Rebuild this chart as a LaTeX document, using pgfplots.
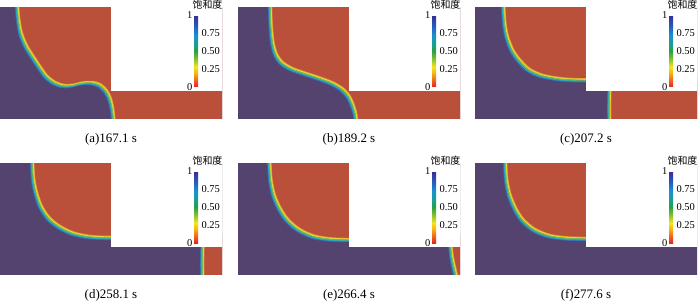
\documentclass[border=0pt]{standalone}
\usepackage{fontspec}
\setmainfont{Liberation Serif}
\newfontfamily\cjk{Noto Sans CJK SC}
\usepackage{pgfplots}
\pgfplotsset{compat=1.18}
\definecolor{spurple}{RGB}{84,67,111}
\definecolor{sred}{RGB}{186,80,58}
\definecolor{sblue}{RGB}{55,105,175}
\definecolor{scyan}{RGB}{40,165,195}
\definecolor{sgreen}{RGB}{110,190,85}
\definecolor{syellow}{RGB}{235,215,50}
\definecolor{sorange}{RGB}{225,145,55}
\pgfplotsset{
  colormap={sat}{rgb255(0cm)=(230,35,35) rgb255(1cm)=(240,105,30) rgb255(2cm)=(245,185,20) rgb255(2.8cm)=(245,230,25) rgb255(3.8cm)=(140,195,50) rgb255(5cm)=(40,160,65) rgb255(6cm)=(25,160,150) rgb255(7.2cm)=(25,145,210) rgb255(8.5cm)=(40,90,190) rgb255(10cm)=(55,45,140)},
  field/.style={
    scale only axis, width=222bp, height=111bp,
    xmin=0, xmax=2, ymin=0, ymax=1, enlargelimits=false,
    axis line style={draw=none}, xtick=\empty, ytick=\empty,
    anchor=south west,
    colormap name=sat, point meta min=0, point meta max=1,
    colorbar shift/.style={},
    colorbar,
    colorbar style={
      at={(parent axis.north west)}, anchor=north west,
      xshift=194bp, yshift=-7bp,
      scale only axis, width=4bp, height=72bp,
      axis line style={draw=none},
      ytick={0.25,0.5,0.75}, yticklabels={0.25,0.50,0.75},
      tick style={draw=none},
      yticklabel style={font=\fontsize{10.5}{12}\selectfont},
      extra description/.code={
        \node[anchor=east, inner sep=1.5bp, font=\fontsize{10.5}{12}\selectfont] at (0,1) {1};
        \node[anchor=east, inner sep=1.5bp, font=\fontsize{10.5}{12}\selectfont] at (0,0) {0};
        \node[font=\cjk\fontsize{10}{12}\selectfont, inner sep=0pt, xshift=11.5bp, yshift=10bp] at (0.5,1) {饱和度};
      },
    },
    xlabel style={at={(axis description cs:0.5,0)}, anchor=center, yshift=-20.5bp, font=\fontsize{13}{15}\selectfont},
  },
  gam/.style={smooth, no markers, draw=sgreen, line width=1.1bp,
    preaction={draw=sblue, line width=1.4bp, transform canvas={shift={(-1.6bp,-1.6bp)}}},
    preaction={draw=scyan, line width=1.3bp, transform canvas={shift={(-0.85bp,-0.85bp)}}},
    preaction={draw=sorange, line width=1.1bp, transform canvas={shift={(1.5bp,1.5bp)}}},
    preaction={draw=syellow, line width=1.3bp, transform canvas={shift={(0.8bp,0.8bp)}}}},
  redzone/.style={smooth, no markers, draw=none, fill=sred},
  bg/.style={draw=none, fill=spurple, no markers},
  mask/.style={draw=none, fill=white, no markers},
}
\begin{document}
\begin{tikzpicture}
\path[use as bounding box] (0,0) rectangle (700bp,302bp);
% ---------------- (a)
\begin{axis}[field, at={(0bp,183bp)}, xlabel={(a)167.1 s}]
\addplot[bg] coordinates {(-0.1,-0.1) (2.1,-0.1) (2.1,1.1) (-0.1,1.1)} -- cycle;
\addplot[redzone] coordinates {(0.146,1.12) (0.152,1.05) (0.156,1.0) (0.165,0.895) (0.186,0.774) (0.234,0.654) (0.300,0.548) (0.360,0.458) (0.420,0.377) (0.495,0.322) (0.571,0.298) (0.646,0.301) (0.736,0.322) (0.826,0.325) (0.895,0.304) (0.955,0.247) (0.991,0.172) (1.012,0.081) (1.021,0.0) (1.026,-0.05) (1.034,-0.12) (1.3,-0.12) (2.1,-0.12) (2.2,-0.12) (2.2,-0.02) (2.2,0.6) (2.2,1.02) (2.2,1.12) (2.1,1.12) (1.0,1.12) (0.25,1.12)} -- cycle;
\addplot[gam] coordinates {(0.146,1.12) (0.152,1.05) (0.156,1.0) (0.165,0.895) (0.186,0.774) (0.234,0.654) (0.300,0.548) (0.360,0.458) (0.420,0.377) (0.495,0.322) (0.571,0.298) (0.646,0.301) (0.736,0.322) (0.826,0.325) (0.895,0.304) (0.955,0.247) (0.991,0.172) (1.012,0.081) (1.021,0.0) (1.026,-0.05) (1.034,-0.12)};
\addplot[mask] coordinates {(1,0.25) (2.1,0.25) (2.1,1.1) (1,1.1)} -- cycle;
\end{axis}
% ---------------- (b)
\begin{axis}[field, at={(238bp,183bp)}, xlabel={(b)189.2 s}]
\addplot[bg] coordinates {(-0.1,-0.1) (2.1,-0.1) (2.1,1.1) (-0.1,1.1)} -- cycle;
\addplot[redzone] coordinates {(0.286,1.12) (0.288,1.05) (0.290,1.0) (0.296,0.834) (0.311,0.684) (0.341,0.578) (0.395,0.503) (0.485,0.449) (0.605,0.407) (0.725,0.367) (0.844,0.322) (0.934,0.268) (0.994,0.202) (1.030,0.127) (1.054,0.051) (1.063,0.0) (1.072,-0.05) (1.085,-0.12) (1.3,-0.12) (2.1,-0.12) (2.2,-0.12) (2.2,-0.02) (2.2,0.6) (2.2,1.02) (2.2,1.12) (2.1,1.12) (1.0,1.12) (0.35,1.12)} -- cycle;
\addplot[gam] coordinates {(0.286,1.12) (0.288,1.05) (0.290,1.0) (0.296,0.834) (0.311,0.684) (0.341,0.578) (0.395,0.503) (0.485,0.449) (0.605,0.407) (0.725,0.367) (0.844,0.322) (0.934,0.268) (0.994,0.202) (1.030,0.127) (1.054,0.051) (1.063,0.0) (1.072,-0.05) (1.085,-0.12)};
\addplot[mask] coordinates {(1,0.25) (2.1,0.25) (2.1,1.1) (1,1.1)} -- cycle;
\end{axis}
% ---------------- (c)
\begin{axis}[field, at={(475bp,183bp)}, xlabel={(c)207.2 s}]
\addplot[bg] coordinates {(-0.1,-0.1) (2.1,-0.1) (2.1,1.1) (-0.1,1.1)} -- cycle;
\addplot[redzone] coordinates {(0.248,1.12) (0.253,1.05) (0.256,1.0) (0.265,0.864) (0.286,0.744) (0.331,0.623) (0.392,0.533) (0.482,0.443) (0.602,0.389) (0.753,0.361) (0.873,0.352) (1.0,0.350) (1.05,0.350) (1.12,0.350) (1.2,0.35) (1.2,0.45) (1.2,1.05) (1.2,1.12) (1.1,1.12) (0.5,1.12) (0.3,1.12)} -- cycle;
\addplot[redzone] coordinates {(1.214,0.37) (1.213,0.3) (1.212,0.25) (1.209,0.125) (1.210,0.0) (1.211,-0.05) (1.212,-0.12) (1.3,-0.12) (2.1,-0.12) (2.2,-0.12) (2.2,-0.05) (2.2,0.3) (2.2,0.37) (2.1,0.37) (1.3,0.37)} -- cycle;
\addplot[gam] coordinates {(0.248,1.12) (0.253,1.05) (0.256,1.0) (0.265,0.864) (0.286,0.744) (0.331,0.623) (0.392,0.533) (0.482,0.443) (0.602,0.389) (0.753,0.361) (0.873,0.352) (1.0,0.350) (1.05,0.350) (1.12,0.350)};
\addplot[gam] coordinates {(1.214,0.37) (1.213,0.3) (1.212,0.25) (1.209,0.125) (1.210,0.0) (1.211,-0.05) (1.212,-0.12)};
\addplot[mask] coordinates {(1,0.25) (2.1,0.25) (2.1,1.1) (1,1.1)} -- cycle;
\end{axis}
% ---------------- (d)
\begin{axis}[field, at={(0bp,27bp)}, xlabel={(d)258.1 s}]
\addplot[bg] coordinates {(-0.1,-0.1) (2.1,-0.1) (2.1,1.1) (-0.1,1.1)} -- cycle;
\addplot[redzone] coordinates {(0.283,1.12) (0.288,1.05) (0.291,1.0) (0.300,0.858) (0.324,0.738) (0.366,0.617) (0.435,0.512) (0.526,0.437) (0.646,0.377) (0.781,0.346) (0.901,0.337) (1.0,0.335) (1.05,0.335) (1.12,0.335) (1.2,0.335) (1.2,0.435) (1.2,1.05) (1.2,1.12) (1.1,1.12) (0.5,1.12) (0.33,1.12)} -- cycle;
\addplot[redzone] coordinates {(1.827,0.37) (1.826,0.3) (1.825,0.25) (1.822,0.125) (1.823,0.0) (1.824,-0.05) (1.825,-0.12) (1.9,-0.12) (2.1,-0.12) (2.2,-0.12) (2.2,-0.05) (2.2,0.3) (2.2,0.37) (2.1,0.37) (1.9,0.37)} -- cycle;
\addplot[gam] coordinates {(0.283,1.12) (0.288,1.05) (0.291,1.0) (0.300,0.858) (0.324,0.738) (0.366,0.617) (0.435,0.512) (0.526,0.437) (0.646,0.377) (0.781,0.346) (0.901,0.337) (1.0,0.335) (1.05,0.335) (1.12,0.335)};
\addplot[gam] coordinates {(1.827,0.37) (1.826,0.3) (1.825,0.25) (1.822,0.125) (1.823,0.0) (1.824,-0.05) (1.825,-0.12)};
\addplot[mask] coordinates {(1,0.25) (2.1,0.25) (2.1,1.1) (1,1.1)} -- cycle;
\end{axis}
% ---------------- (e)
\begin{axis}[field, at={(238bp,27bp)}, xlabel={(e)266.4 s}]
\addplot[bg] coordinates {(-0.1,-0.1) (2.1,-0.1) (2.1,1.1) (-0.1,1.1)} -- cycle;
\addplot[redzone] coordinates {(0.276,1.12) (0.281,1.05) (0.284,1.0) (0.293,0.858) (0.320,0.723) (0.371,0.602) (0.440,0.497) (0.545,0.407) (0.680,0.346) (0.829,0.322) (1.0,0.316) (1.05,0.316) (1.12,0.316) (1.2,0.316) (1.2,0.416) (1.2,1.05) (1.2,1.12) (1.1,1.12) (0.5,1.12) (0.32,1.12)} -- cycle;
\addplot[redzone] coordinates {(1.903,0.37) (1.911,0.3) (1.916,0.25) (1.925,0.166) (1.940,0.09) (1.961,0.0) (1.973,-0.05) (1.989,-0.12) (2.05,-0.12) (2.1,-0.12) (2.2,-0.12) (2.2,-0.05) (2.2,0.3) (2.2,0.37) (2.1,0.37) (2.0,0.37)} -- cycle;
\addplot[gam] coordinates {(0.276,1.12) (0.281,1.05) (0.284,1.0) (0.293,0.858) (0.320,0.723) (0.371,0.602) (0.440,0.497) (0.545,0.407) (0.680,0.346) (0.829,0.322) (1.0,0.316) (1.05,0.316) (1.12,0.316)};
\addplot[gam] coordinates {(1.903,0.37) (1.911,0.3) (1.916,0.25) (1.925,0.166) (1.940,0.09) (1.961,0.0) (1.973,-0.05) (1.989,-0.12)};
\addplot[mask] coordinates {(1,0.25) (2.1,0.25) (2.1,1.1) (1,1.1)} -- cycle;
\end{axis}
% ---------------- (f)
\begin{axis}[field, at={(475bp,27bp)}, xlabel={(f)277.6 s}]
\addplot[bg] coordinates {(-0.1,-0.1) (2.1,-0.1) (2.1,1.1) (-0.1,1.1)} -- cycle;
\addplot[redzone] coordinates {(0.265,1.12) (0.270,1.05) (0.273,1.0) (0.282,0.858) (0.309,0.723) (0.358,0.602) (0.424,0.497) (0.530,0.407) (0.667,0.352) (0.818,0.331) (1.0,0.325) (1.05,0.325) (1.12,0.325) (1.2,0.325) (1.2,0.425) (1.2,1.05) (1.2,1.12) (1.1,1.12) (0.5,1.12) (0.31,1.12)} -- cycle;
\addplot[gam] coordinates {(0.265,1.12) (0.270,1.05) (0.273,1.0) (0.282,0.858) (0.309,0.723) (0.358,0.602) (0.424,0.497) (0.530,0.407) (0.667,0.352) (0.818,0.331) (1.0,0.325) (1.05,0.325) (1.12,0.325)};
\addplot[mask] coordinates {(1,0.25) (2.1,0.25) (2.1,1.1) (1,1.1)} -- cycle;
\end{axis}
\end{tikzpicture}
\end{document}
